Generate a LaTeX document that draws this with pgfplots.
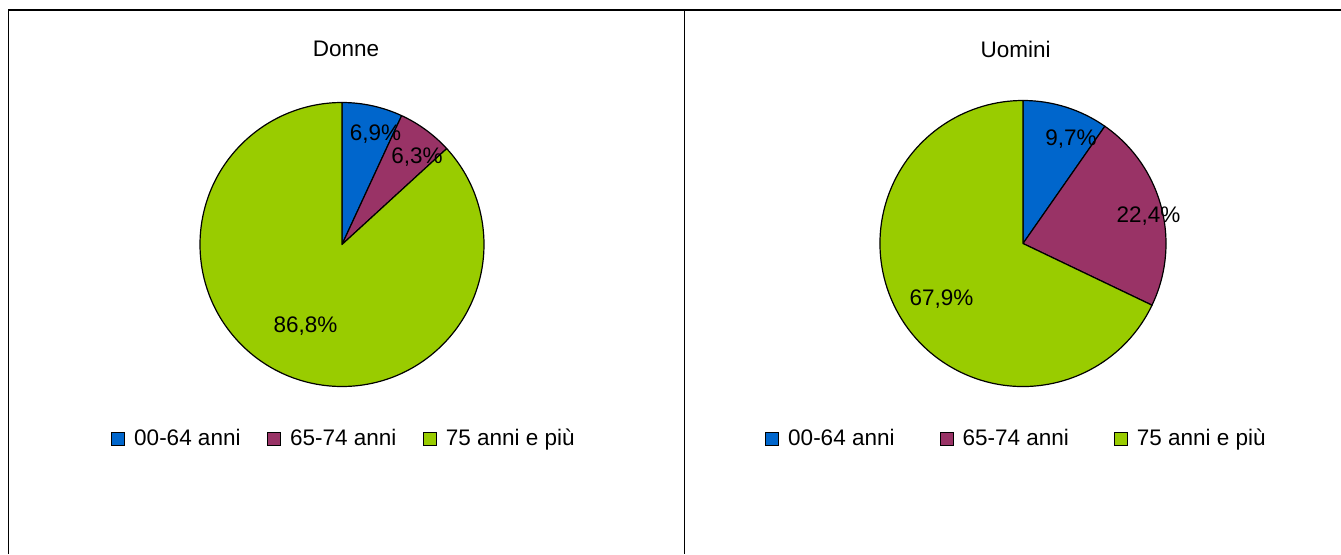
\documentclass[border=0pt]{standalone}
\usepackage{pgfplots}
\usepackage{pgfplotstable}
\pgfplotsset{compat=1.18}
\usepackage{fontspec}
\setmainfont{Liberation Sans}
\definecolor{cblue}{HTML}{0066CC}
\definecolor{cred}{HTML}{993366}
\definecolor{cgreen}{HTML}{99CC00}

\pgfplotstableread{
group value
a 6.9
b 6.3
c 86.8
}\donne
\pgfplotstableread{
group value
a 9.7
b 22.4
c 67.9
}\uomini

\pgfplotstablegetelem{0}{value}\of\donne\edef\dA{\pgfplotsretval}
\pgfplotstablegetelem{1}{value}\of\donne\edef\dB{\pgfplotsretval}
\pgfplotstablegetelem{0}{value}\of\uomini\edef\uA{\pgfplotsretval}
\pgfplotstablegetelem{1}{value}\of\uomini\edef\uB{\pgfplotsretval}
\pgfmathsetmacro{\dAa}{90-3.6*\dA}
\pgfmathsetmacro{\dBa}{\dAa-3.6*\dB}
\pgfmathsetmacro{\uAa}{90-3.6*\uA}
\pgfmathsetmacro{\uBa}{\uAa-3.6*\uB}

\pgfplotsset{
  pieaxis/.style={
    anchor=center, scale only axis, width=150pt, height=150pt,
    xmin=-150, xmax=150, ymin=-150, ymax=150,
    hide axis, clip=false,
    legend columns=3,
    legend cell align=left,
    legend style={draw=none, fill=none, anchor=center,
      font=\fontsize{11.25}{13.5}\selectfont, inner sep=0pt, row sep=0pt,
      /tikz/every odd column/.append style={column sep=2.5pt}},
  },
  sq/.style={legend image code/.code={\draw[fill=#1,draw=black,line width=0.5pt] (0pt,-3.25pt) rectangle (6.5pt,3.25pt);}},
}
\tikzset{pie/.style={draw=black, line width=0.6pt, line join=round},
  lab/.style={anchor=base, inner sep=0pt, font=\fontsize{11.25}{13.5}\selectfont}}

\begin{document}
\begin{tikzpicture}
\useasboundingbox (0,0) rectangle (670.5pt,277pt);
\draw[line width=0.75pt] (4.25pt,0pt) -- (4.25pt,272pt) -- (670.5pt,272pt);
\draw[line width=0.75pt] (342.25pt,272pt) -- (342.25pt,0pt);

\begin{axis}[pieaxis, at={(171pt,154.75pt)},
  legend style={at={(axis cs:3,-194.5)}, /tikz/every even column/.append style={column sep=11.25pt}}]
\addlegendimage{sq=cblue}\addlegendentry{00-64 anni}
\addlegendimage{sq=cred}\addlegendentry{65-74 anni}
\addlegendimage{sq=cgreen}\addlegendentry{75 anni e più}
\fill[cblue,pie] (axis cs:0,0) -- ++(90:71pt) arc[start angle=90,end angle=\dAa,radius=71pt] -- cycle;
\fill[cred,pie] (axis cs:0,0) -- ++(\dAa:71pt) arc[start angle=\dAa,end angle=\dBa,radius=71pt] -- cycle;
\fill[cgreen,pie] (axis cs:0,0) -- ++(\dBa:71pt) arc[start angle=\dBa,end angle=-270,radius=71pt] -- cycle;
\node[lab] at (axis cs:33.5,104.5) {6,9\%};
\node[lab] at (axis cs:75,81.5) {6,3\%};
\node[lab] at (axis cs:-36.5,-87.5) {86,8\%};
\node[lab] at (axis cs:4,188.5) {Donne};
\end{axis}

\begin{axis}[pieaxis, at={(511.5pt,155.25pt)},
  legend style={at={(axis cs:-5.5,-195.5)}, /tikz/every even column/.append style={column sep=20.5pt}}]
\addlegendimage{sq=cblue}\addlegendentry{00-64 anni}
\addlegendimage{sq=cred}\addlegendentry{65-74 anni}
\addlegendimage{sq=cgreen}\addlegendentry{75 anni e più}
\fill[cblue,pie] (axis cs:0,0) -- ++(90:71.5pt) arc[start angle=90,end angle=\uAa,radius=71.5pt] -- cycle;
\fill[cred,pie] (axis cs:0,0) -- ++(\uAa:71.5pt) arc[start angle=\uAa,end angle=\uBa,radius=71.5pt] -- cycle;
\fill[cgreen,pie] (axis cs:0,0) -- ++(\uBa:71.5pt) arc[start angle=\uBa,end angle=-270,radius=71.5pt] -- cycle;
\node[lab] at (axis cs:48,98.5) {9,7\%};
\node[lab] at (axis cs:125.5,21.5) {22,4\%};
\node[lab] at (axis cs:-81.5,-62.2) {67,9\%};
\node[lab] at (axis cs:-7.3,186.5) {Uomini};
\end{axis}
\end{tikzpicture}
\end{document}
